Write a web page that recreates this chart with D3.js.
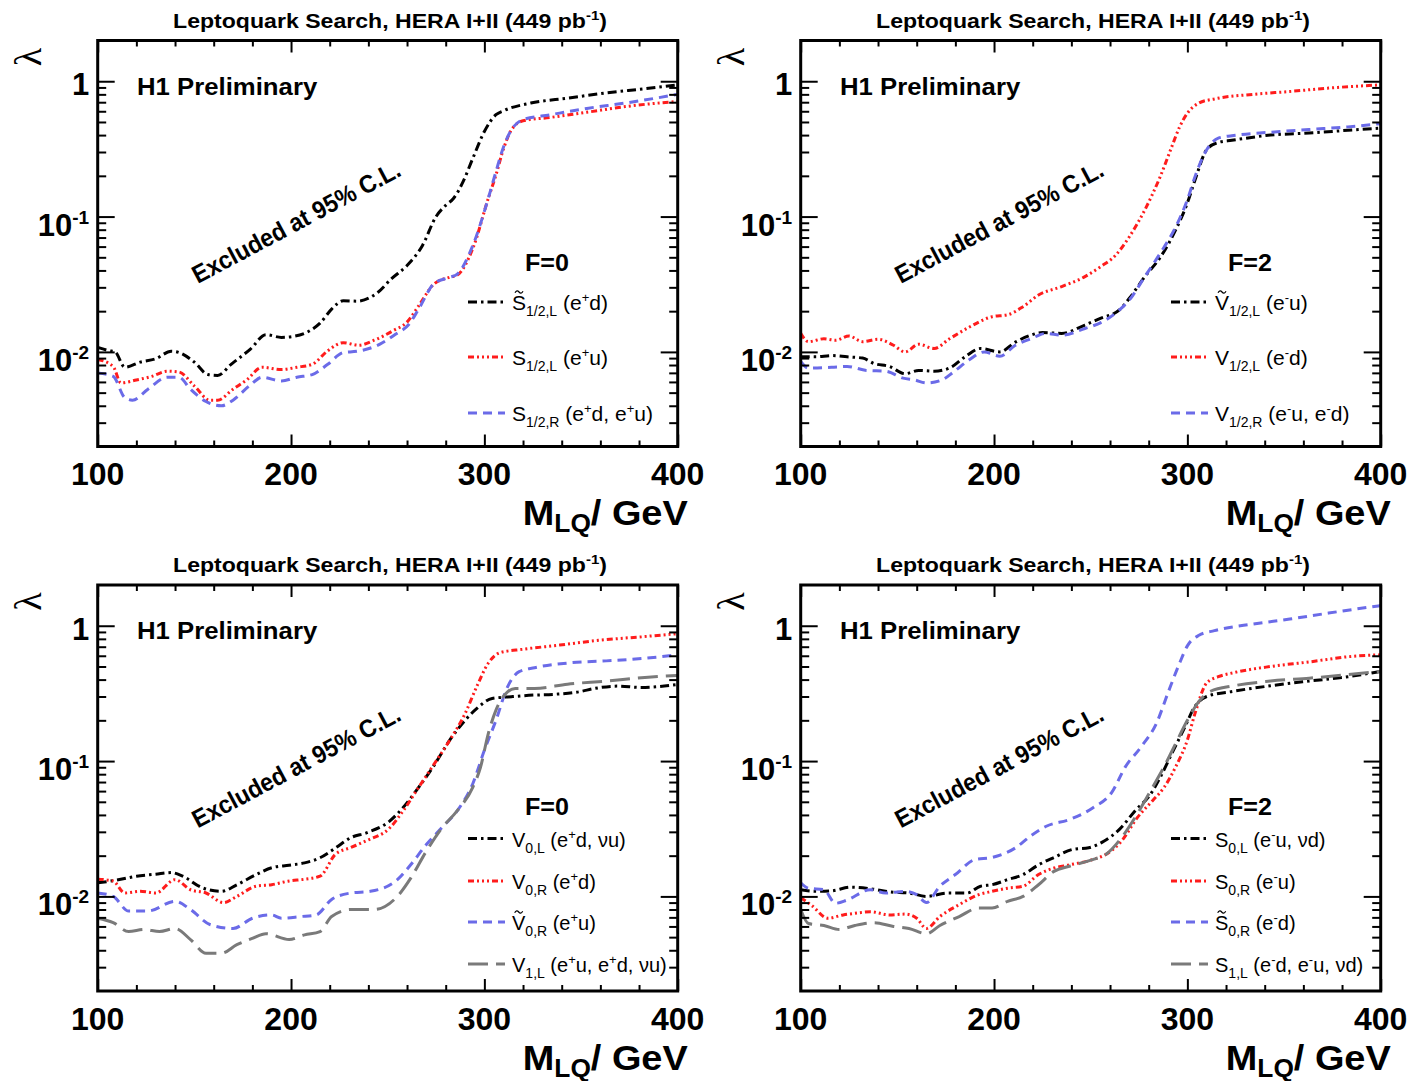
<!DOCTYPE html>
<html>
<head>
<meta charset="utf-8">
<script src="https://cdn.jsdelivr.net/npm/d3@7"></script>
<style>
  html, body { margin: 0; padding: 0; background: #fff; }
  svg { display: block; font-family: "Liberation Sans", Arial, Helvetica, sans-serif; }
</style>
</head>
<body>
<svg id="chart" width="1408" height="1081"></svg>
<script>
// ---------------------------------------------------------------
// Upper limits on the Yukawa coupling lambda vs leptoquark mass
// ---------------------------------------------------------------

// Axis ranges and tick labels
const massRange = [100, 400];
const lambdaRange = [0.002, 2];
const xTickValues = [100, 200, 300, 400];
const yTickValues = [0.01, 0.1, 1];
const yTickLabels = ["10^{-2}", "10^{-1}", "1"];

// Texts
const panelTitle = "Leptoquark Search, HERA I+II (449 pb^{-1})";
const experimentLabel = "H1 Preliminary";
const exclusionLabel = "Excluded at 95% C.L.";
const fermionNumbers = ["F=0", "F=2", "F=0", "F=2"];
const axisTitleX = "M_{LQ}/ GeV";
const axisTitleY = "\u03bb";

// Panel 1: F=0 scalars, e+p
const m_S12L_tilde = [100, 106, 109, 114, 122, 130, 138, 142, 150, 157, 162, 169, 179, 187, 195, 201, 211, 215, 221, 227, 234, 245, 252, 260, 268, 275, 280, 284, 289, 294, 300, 306, 310, 324, 343, 363, 383, 400];
const lam_S12L_tilde = [0.0108, 0.0102, 0.0100, 0.0077, 0.0084, 0.0089, 0.0101, 0.0099, 0.0084, 0.0068, 0.0067, 0.0081, 0.0105, 0.0134, 0.0128, 0.0130, 0.0147, 0.0163, 0.0207, 0.0239, 0.0237, 0.0276, 0.0348, 0.0435, 0.0612, 0.100, 0.121, 0.136, 0.181, 0.269, 0.425, 0.566, 0.606, 0.69, 0.75, 0.82, 0.88, 0.94];
const m_S12L = [100, 108, 112, 120, 128, 136, 142, 150, 158, 162, 170, 177, 185, 195, 203, 211, 219, 227, 235, 243, 253, 260, 266, 274, 282, 286, 294, 302, 306, 310, 314, 320, 334, 353, 373, 400];
const lam_S12L = [0.0088, 0.0078, 0.0059, 0.0062, 0.0066, 0.0072, 0.0071, 0.0056, 0.0044, 0.0044, 0.0053, 0.0062, 0.0077, 0.0074, 0.0077, 0.0081, 0.0102, 0.0117, 0.0112, 0.0122, 0.0144, 0.0166, 0.0219, 0.0318, 0.0356, 0.037, 0.058, 0.136, 0.203, 0.32, 0.437, 0.51, 0.54, 0.59, 0.65, 0.71];
const m_S12R = [100, 108, 114, 118, 126, 136, 142, 148, 156, 164, 170, 179, 185, 195, 203, 211, 219, 227, 234, 246, 254, 261, 266, 274, 282, 286, 294, 302, 306, 310, 314, 320, 334, 353, 373, 400];
const lam_S12R = [0.0070, 0.0066, 0.0046, 0.0044, 0.0053, 0.0065, 0.0065, 0.0053, 0.0043, 0.0040, 0.0044, 0.0057, 0.0065, 0.0061, 0.0065, 0.0068, 0.0081, 0.0099, 0.0101, 0.0114, 0.0135, 0.016, 0.0207, 0.032, 0.0356, 0.0376, 0.061, 0.136, 0.215, 0.33, 0.437, 0.52, 0.565, 0.63, 0.69, 0.80];

// Panel 2: F=2 vectors, e-p
const m_V12L_tilde = [100, 108, 116, 124, 132, 138, 146, 154, 161, 169, 177, 185, 193, 203, 211, 219, 225, 235, 247, 255, 265, 270, 278, 286, 294, 300, 304, 310, 316, 323, 343, 363, 383, 400];
const lam_V12L_tilde = [0.0092, 0.0092, 0.0094, 0.0092, 0.0090, 0.0082, 0.0078, 0.0069, 0.0073, 0.0072, 0.0076, 0.0092, 0.0106, 0.0100, 0.0118, 0.0133, 0.0139, 0.0137, 0.0158, 0.0177, 0.0205, 0.0249, 0.036, 0.050, 0.080, 0.126, 0.187, 0.312, 0.353, 0.366, 0.40, 0.414, 0.434, 0.45];
const m_V12L = [100, 104, 112, 118, 125, 132, 140, 148, 154, 161, 169, 177, 187, 199, 207, 215, 223, 235, 247, 255, 263, 270, 278, 286, 292, 296, 300, 306, 314, 334, 353, 373, 400];
const lam_V12L = [0.0137, 0.0119, 0.0125, 0.0122, 0.0131, 0.0119, 0.0124, 0.0112, 0.0100, 0.0114, 0.0106, 0.0125, 0.0152, 0.0182, 0.0188, 0.0216, 0.0263, 0.0304, 0.036, 0.0425, 0.052, 0.071, 0.112, 0.198, 0.33, 0.46, 0.58, 0.69, 0.74, 0.80, 0.84, 0.89, 0.94];
const m_V12R = [100, 104, 116, 124, 134, 144, 153, 159, 165, 173, 179, 187, 195, 203, 211, 219, 227, 235, 247, 255, 265, 270, 278, 286, 294, 300, 304, 310, 316, 323, 343, 363, 383, 400];
const lam_V12R = [0.0085, 0.0076, 0.0077, 0.0078, 0.0073, 0.0072, 0.0064, 0.0062, 0.0059, 0.0062, 0.0071, 0.0087, 0.0100, 0.0093, 0.0112, 0.0125, 0.0137, 0.0133, 0.0149, 0.0164, 0.0205, 0.0242, 0.036, 0.0537, 0.084, 0.133, 0.198, 0.312, 0.38, 0.396, 0.42, 0.44, 0.46, 0.486];

// Panel 3: F=0 vectors
const m_V0L = [100, 110, 120, 130, 138, 144, 154, 164, 172, 182, 190, 199, 207, 215, 223, 231, 239, 251, 258, 266, 274, 282, 290, 296, 304, 314, 323, 337, 349, 357, 369, 381, 400];
const lam_V0L = [0.0126, 0.0132, 0.0141, 0.0146, 0.0150, 0.0141, 0.0116, 0.0109, 0.0122, 0.0145, 0.0163, 0.0170, 0.0177, 0.0193, 0.0228, 0.0272, 0.0295, 0.036, 0.0454, 0.064, 0.093, 0.142, 0.200, 0.244, 0.290, 0.299, 0.306, 0.312, 0.325, 0.344, 0.358, 0.350, 0.368];
const m_V0R = [100, 108, 114, 122, 130, 140, 148, 156, 165, 172, 182, 190, 199, 207, 215, 223, 231, 239, 251, 258, 266, 274, 282, 290, 296, 302, 308, 320, 339, 359, 379, 400];
const lam_V0R = [0.0134, 0.013, 0.0106, 0.0109, 0.0106, 0.0133, 0.0112, 0.0106, 0.0090, 0.0100, 0.0119, 0.0122, 0.0130, 0.0134, 0.0141, 0.0205, 0.023, 0.0258, 0.032, 0.0429, 0.064, 0.095, 0.142, 0.224, 0.354, 0.528, 0.633, 0.67, 0.72, 0.78, 0.824, 0.873];
const m_V0R_tilde = [100, 108, 116, 126, 140, 148, 158, 170, 180, 190, 195, 205, 213, 221, 231, 241, 255, 262, 270, 278, 286, 294, 300, 306, 312, 318, 326, 343, 363, 383, 400];
const lam_V0R_tilde = [0.0106, 0.0100, 0.0078, 0.0078, 0.0092, 0.0080, 0.0062, 0.0058, 0.0069, 0.0073, 0.0069, 0.0071, 0.0073, 0.0095, 0.0106, 0.0109, 0.0133, 0.0172, 0.0242, 0.0322, 0.043, 0.068, 0.120, 0.200, 0.354, 0.458, 0.49, 0.53, 0.55, 0.575, 0.61];
const m_V1L = [100, 108, 116, 124, 132, 140, 148, 156, 164, 172, 180, 187, 199, 207, 215, 221, 231, 243, 255, 262, 270, 278, 286, 294, 298, 302, 306, 312, 316, 326, 343, 363, 383, 400];
const lam_V1L = [0.0069, 0.0064, 0.0055, 0.0057, 0.0055, 0.0058, 0.0048, 0.0038, 0.0038, 0.0044, 0.0049, 0.0053, 0.0048, 0.0052, 0.0055, 0.0071, 0.0080, 0.0080, 0.0100, 0.0137, 0.0216, 0.032, 0.043, 0.064, 0.09, 0.159, 0.238, 0.325, 0.344, 0.344, 0.37, 0.39, 0.415, 0.43];

// Panel 4: F=2 scalars
const m_S0L = [100, 108, 116, 126, 136, 146, 156, 165, 176, 186, 193, 199, 207, 215, 223, 231, 241, 249, 257, 265, 273, 281, 286, 292, 298, 304, 310, 324, 343, 363, 383, 400];
const lam_S0L = [0.0112, 0.0109, 0.0110, 0.0117, 0.0114, 0.0108, 0.0106, 0.0100, 0.0106, 0.0106, 0.0119, 0.0122, 0.0133, 0.0145, 0.0171, 0.0194, 0.0223, 0.0229, 0.0257, 0.0314, 0.043, 0.057, 0.076, 0.114, 0.17, 0.254, 0.30, 0.328, 0.36, 0.39, 0.42, 0.46];
const m_S0R = [100, 106, 114, 122, 128, 136, 146, 154, 160, 165, 172, 182, 192, 199, 207, 215, 223, 231, 239, 251, 258, 266, 274, 282, 288, 294, 300, 304, 310, 316, 324, 343, 363, 383, 400];
const lam_S0R = [0.0098, 0.0085, 0.0069, 0.0073, 0.0075, 0.0077, 0.0073, 0.0074, 0.0069, 0.0058, 0.0071, 0.0087, 0.0103, 0.0109, 0.0115, 0.0119, 0.0145, 0.0162, 0.0171, 0.0187, 0.0205, 0.0257, 0.038, 0.051, 0.064, 0.091, 0.143, 0.226, 0.378, 0.42, 0.45, 0.50, 0.54, 0.59, 0.61];
const m_S0R_tilde = [100, 104, 112, 118, 124, 136, 144, 154, 160, 165, 172, 180, 190, 199, 211, 219, 227, 239, 251, 261, 268, 276, 284, 290, 296, 300, 306, 314, 334, 353, 373, 400];
const lam_S0R_tilde = [0.0126, 0.0115, 0.0112, 0.0089, 0.0094, 0.0112, 0.0106, 0.0109, 0.0103, 0.0090, 0.0119, 0.0145, 0.0187, 0.0194, 0.0228, 0.0280, 0.033, 0.037, 0.045, 0.059, 0.091, 0.127, 0.19, 0.32, 0.53, 0.71, 0.85, 0.92, 1.03, 1.12, 1.24, 1.41];
const m_S1L = [100, 104, 112, 120, 128, 138, 148, 156, 165, 172, 182, 192, 199, 207, 215, 223, 231, 239, 251, 258, 266, 274, 282, 288, 294, 300, 306, 312, 324, 343, 363, 383, 400];
const lam_S1L = [0.0080, 0.0063, 0.0061, 0.0057, 0.0061, 0.0064, 0.0060, 0.0058, 0.0053, 0.0061, 0.0071, 0.0082, 0.0082, 0.0092, 0.0100, 0.0122, 0.0153, 0.0167, 0.0187, 0.0205, 0.0272, 0.0405, 0.064, 0.091, 0.135, 0.20, 0.276, 0.328, 0.36, 0.39, 0.41, 0.435, 0.46];

// Legend labels ("~" = tilde over first letter, _{} subscript, ^{} superscript)
const legendP1 = ["~S_{1/2,L} (e^{+}d)", "S_{1/2,L} (e^{+}u)", "S_{1/2,R} (e^{+}d, e^{+}u)"];
const legendP2 = ["~V_{1/2,L} (e^{-}u)", "V_{1/2,L} (e^{-}d)", "V_{1/2,R} (e^{-}u, e^{-}d)"];
const legendP3 = ["V_{0,L} (e^{+}d, \u03bdu)", "V_{0,R} (e^{+}d)", "~V_{0,R} (e^{+}u)", "V_{1,L} (e^{+}u, e^{+}d, \u03bdu)"];
const legendP4 = ["S_{0,L} (e^{-}u, \u03bdd)", "S_{0,R} (e^{-}u)", "~S_{0,R} (e^{-}d)", "S_{1,L} (e^{-}d, e^{-}u, \u03bdd)"];

// ---------------------------------------------------------------
// Line styles
const lineStyles = {
  black: { color: "#000000", dash: "9 4 2.5 4" },
  red:   { color: "#ff1c1c", dash: "6 3 2 3 2 3 2 3" },
  blue:  { color: "#6b6be8", dash: "9 6" },
  gray:  { color: "#7a7a7a", dash: "20 8" }
};

const panels = [
  { F: fermionNumbers[0], labels: legendP1, series: [
      { m: m_S12L_tilde, lam: lam_S12L_tilde, style: "black" },
      { m: m_S12L, lam: lam_S12L, style: "red" },
      { m: m_S12R, lam: lam_S12R, style: "blue" } ] },
  { F: fermionNumbers[1], labels: legendP2, series: [
      { m: m_V12L_tilde, lam: lam_V12L_tilde, style: "black" },
      { m: m_V12L, lam: lam_V12L, style: "red" },
      { m: m_V12R, lam: lam_V12R, style: "blue" } ] },
  { F: fermionNumbers[2], labels: legendP3, series: [
      { m: m_V0L, lam: lam_V0L, style: "black" },
      { m: m_V0R, lam: lam_V0R, style: "red" },
      { m: m_V0R_tilde, lam: lam_V0R_tilde, style: "blue" },
      { m: m_V1L, lam: lam_V1L, style: "gray" } ] },
  { F: fermionNumbers[3], labels: legendP4, series: [
      { m: m_S0L, lam: lam_S0L, style: "black" },
      { m: m_S0R, lam: lam_S0R, style: "red" },
      { m: m_S0R_tilde, lam: lam_S0R_tilde, style: "blue" },
      { m: m_S1L, lam: lam_S1L, style: "gray" } ] }
];

// ---------------------------------------------------------------
// Layout
const frameL = 97.7, frameR = 677.7, frameT = 40.5, frameB = 446.5;
const panelOffsets = [[0, 0], [703, 0], [0, 544.5], [703, 544.5]];
const legendRows3 = [302, 357, 413];
const legendRows4 = [294, 336.5, 377.5, 419.5];

const svg = d3.select("#chart");

// Text with sub/superscripts parsed from a small markup
function richText(parent, str, o) {
  const t = parent.append("text")
    .attr("x", o.x).attr("y", o.y)
    .attr("font-size", o.size)
    .attr("font-weight", o.weight || "normal")
    .attr("text-anchor", o.anchor || "start")
    .style("white-space", "pre");
  let s = str, tilde = false;
  if (s[0] === "~") { tilde = true; s = s.slice(1); }
  const re = /([_^])\{([^}]*)\}|([^_^]+)/g;
  let m, cur = 0;
  while ((m = re.exec(s))) {
    let text, size, shift;
    if (m[1] === "_") { text = m[2]; size = o.subSize; shift = o.subShift; }
    else if (m[1] === "^") { text = m[2]; size = o.supSize; shift = -o.supShift; }
    else { text = m[3]; size = o.size; shift = 0; }
    const sp = t.append("tspan").attr("font-size", size).text(text);
    if (shift !== cur) sp.attr("dy", shift - cur);
    cur = shift;
  }
  if (tilde) {
    // small wave drawn over the first letter
    const ext = t.node().getExtentOfChar(0);
    const cx = ext.x + ext.width / 2, ty = o.y - o.tildeRise;
    parent.append("path")
      .attr("d", `M${cx - 4},${ty + 0.8} c1.3,-2.4 2.7,-2.4 4,-0.8 s2.7,1.6 4,-0.8`)
      .attr("fill", "none").attr("stroke", "#000").attr("stroke-width", 1.2);
  }
  return t;
}

// Stretch a text horizontally to a given width about anchor ax
function fitWidth(t, target, ax) {
  const w = t.node().getBBox().width;
  const k = target / w;
  t.attr("transform", `translate(${ax},0) scale(${k},1) translate(${-ax},0)`);
}

// Minor tick values
const xMinor = d3.range(massRange[0], massRange[1] + 1, 20).filter(v => v % 100 !== 0);
const yMinor = [];
[0.001, 0.01, 0.1, 1].forEach(dec => {
  for (let k = 2; k <= 9; k++) {
    const v = +(k * dec).toPrecision(3);
    if (v > lambdaRange[0] && v < lambdaRange[1]) yMinor.push(v);
  }
});

panels.forEach((p, i) => {
  const [ox, oy] = panelOffsets[i];
  const g = svg.append("g").attr("transform", `translate(${ox},${oy})`);

  const x = d3.scaleLinear().domain(massRange).range([frameL, frameR]);
  const y = d3.scaleLog().domain(lambdaRange).range([frameB, frameT]);

  // Curves
  const clipId = "plotclip" + i;
  g.append("clipPath").attr("id", clipId).append("rect")
    .attr("x", frameL).attr("y", frameT)
    .attr("width", frameR - frameL).attr("height", frameB - frameT);

  const line = d3.line()
    .x(d => x(d[0]))
    .y(d => y(d[1]))
    .curve(d3.curveMonotoneX);

  const curves = g.append("g").attr("clip-path", `url(#${clipId})`);
  p.series.forEach(s => {
    const st = lineStyles[s.style];
    curves.append("path")
      .datum(d3.zip(s.m, s.lam))
      .attr("d", line)
      .attr("fill", "none")
      .attr("stroke", st.color)
      .attr("stroke-width", 3)
      .attr("stroke-dasharray", st.dash);
  });

  // Tick marks on all four sides
  const tickAxes = [
    [d3.axisBottom(x).tickValues(xTickValues).tickSize(-12), `translate(0,${frameB})`],
    [d3.axisBottom(x).tickValues(xMinor).tickSize(-6), `translate(0,${frameB})`],
    [d3.axisTop(x).tickValues(xTickValues).tickSize(-12), `translate(0,${frameT})`],
    [d3.axisTop(x).tickValues(xMinor).tickSize(-6), `translate(0,${frameT})`],
    [d3.axisLeft(y).tickValues(yTickValues).tickSize(-17), `translate(${frameL},0)`],
    [d3.axisLeft(y).tickValues(yMinor).tickSize(-8.5), `translate(${frameL},0)`],
    [d3.axisRight(y).tickValues(yTickValues).tickSize(-17), `translate(${frameR},0)`],
    [d3.axisRight(y).tickValues(yMinor).tickSize(-8.5), `translate(${frameR},0)`]
  ];
  tickAxes.forEach(([ax, tr]) => {
    const a = g.append("g").attr("transform", tr).call(ax.tickFormat(""));
    a.select(".domain").remove();
    a.selectAll("line").attr("stroke", "#000").attr("stroke-width", 2);
  });

  // Frame
  g.append("rect")
    .attr("x", frameL).attr("y", frameT)
    .attr("width", frameR - frameL).attr("height", frameB - frameT)
    .attr("fill", "none").attr("stroke", "#000").attr("stroke-width", 3);

  // X tick labels
  xTickValues.forEach(v => {
    g.append("text")
      .attr("x", x(v)).attr("y", frameB + 38.5)
      .attr("text-anchor", "middle")
      .attr("font-size", 32).attr("font-weight", "bold")
      .text(v);
  });

  // Y tick labels
  yTickValues.forEach((v, k) => {
    const lbl = yTickLabels[k];
    richText(g, lbl, {
      x: frameL - 8.5, y: y(v) + (lbl.indexOf("^") >= 0 ? 19 : 14),
      size: 31, weight: "bold", anchor: "end",
      supSize: 19, supShift: 12
    });
  });

  // Axis titles
  const xt = richText(g, axisTitleX, {
    x: frameR + 10, y: frameB + 79, size: 36, weight: "bold", anchor: "end",
    subSize: 25, subShift: 7
  });
  fitWidth(xt, 165, frameR + 10);

  g.append("text")
    .attr("transform", `translate(27.5,57) rotate(-90)`)
    .attr("text-anchor", "middle")
    .attr("dominant-baseline", "central")
    .attr("font-family", "'Liberation Serif', 'DejaVu Serif', serif")
    .attr("font-size", 38)
    .text(axisTitleY);

  // Title
  const tt = richText(g, panelTitle, {
    x: 390, y: 28, size: 20, weight: "bold", anchor: "middle",
    supSize: 13, supShift: 8
  });
  fitWidth(tt, 434, 390);

  // Experiment label
  const h1 = g.append("text")
    .attr("x", 137).attr("y", 95)
    .attr("font-size", 24).attr("font-weight", "bold")
    .text(experimentLabel);
  fitWidth(h1, 181, 137);

  // Excluded region label
  const ex = g.append("g").attr("transform", "translate(296,221.5) rotate(-28)")
    .append("text")
    .attr("x", 0).attr("y", 9)
    .attr("text-anchor", "middle")
    .attr("font-size", 25).attr("font-weight", "bold")
    .text(exclusionLabel);
  fitWidth(ex, 232, 0);

  // Fermion number
  const ft = g.append("text")
    .attr("x", 525).attr("y", 271)
    .attr("font-size", 24).attr("font-weight", "bold")
    .text(p.F);
  fitWidth(ft, 44, 525);

  // Legend
  const three = p.series.length === 3;
  const rows = three ? legendRows3 : legendRows4;
  const fs = three ? 21 : 20;
  p.series.forEach((s, k) => {
    const st = lineStyles[s.style];
    const ry = rows[k];
    g.append("line")
      .attr("x1", 468).attr("x2", 505)
      .attr("y1", ry).attr("y2", ry)
      .attr("stroke", st.color).attr("stroke-width", 3)
      .attr("stroke-dasharray", st.dash);
    richText(g, p.labels[k], {
      x: 512, y: ry + 8, size: fs,
      subSize: 14, subShift: 6, supSize: 13, supShift: 8,
      tildeRise: 18
    });
  });
});
</script>
</body>
</html>
